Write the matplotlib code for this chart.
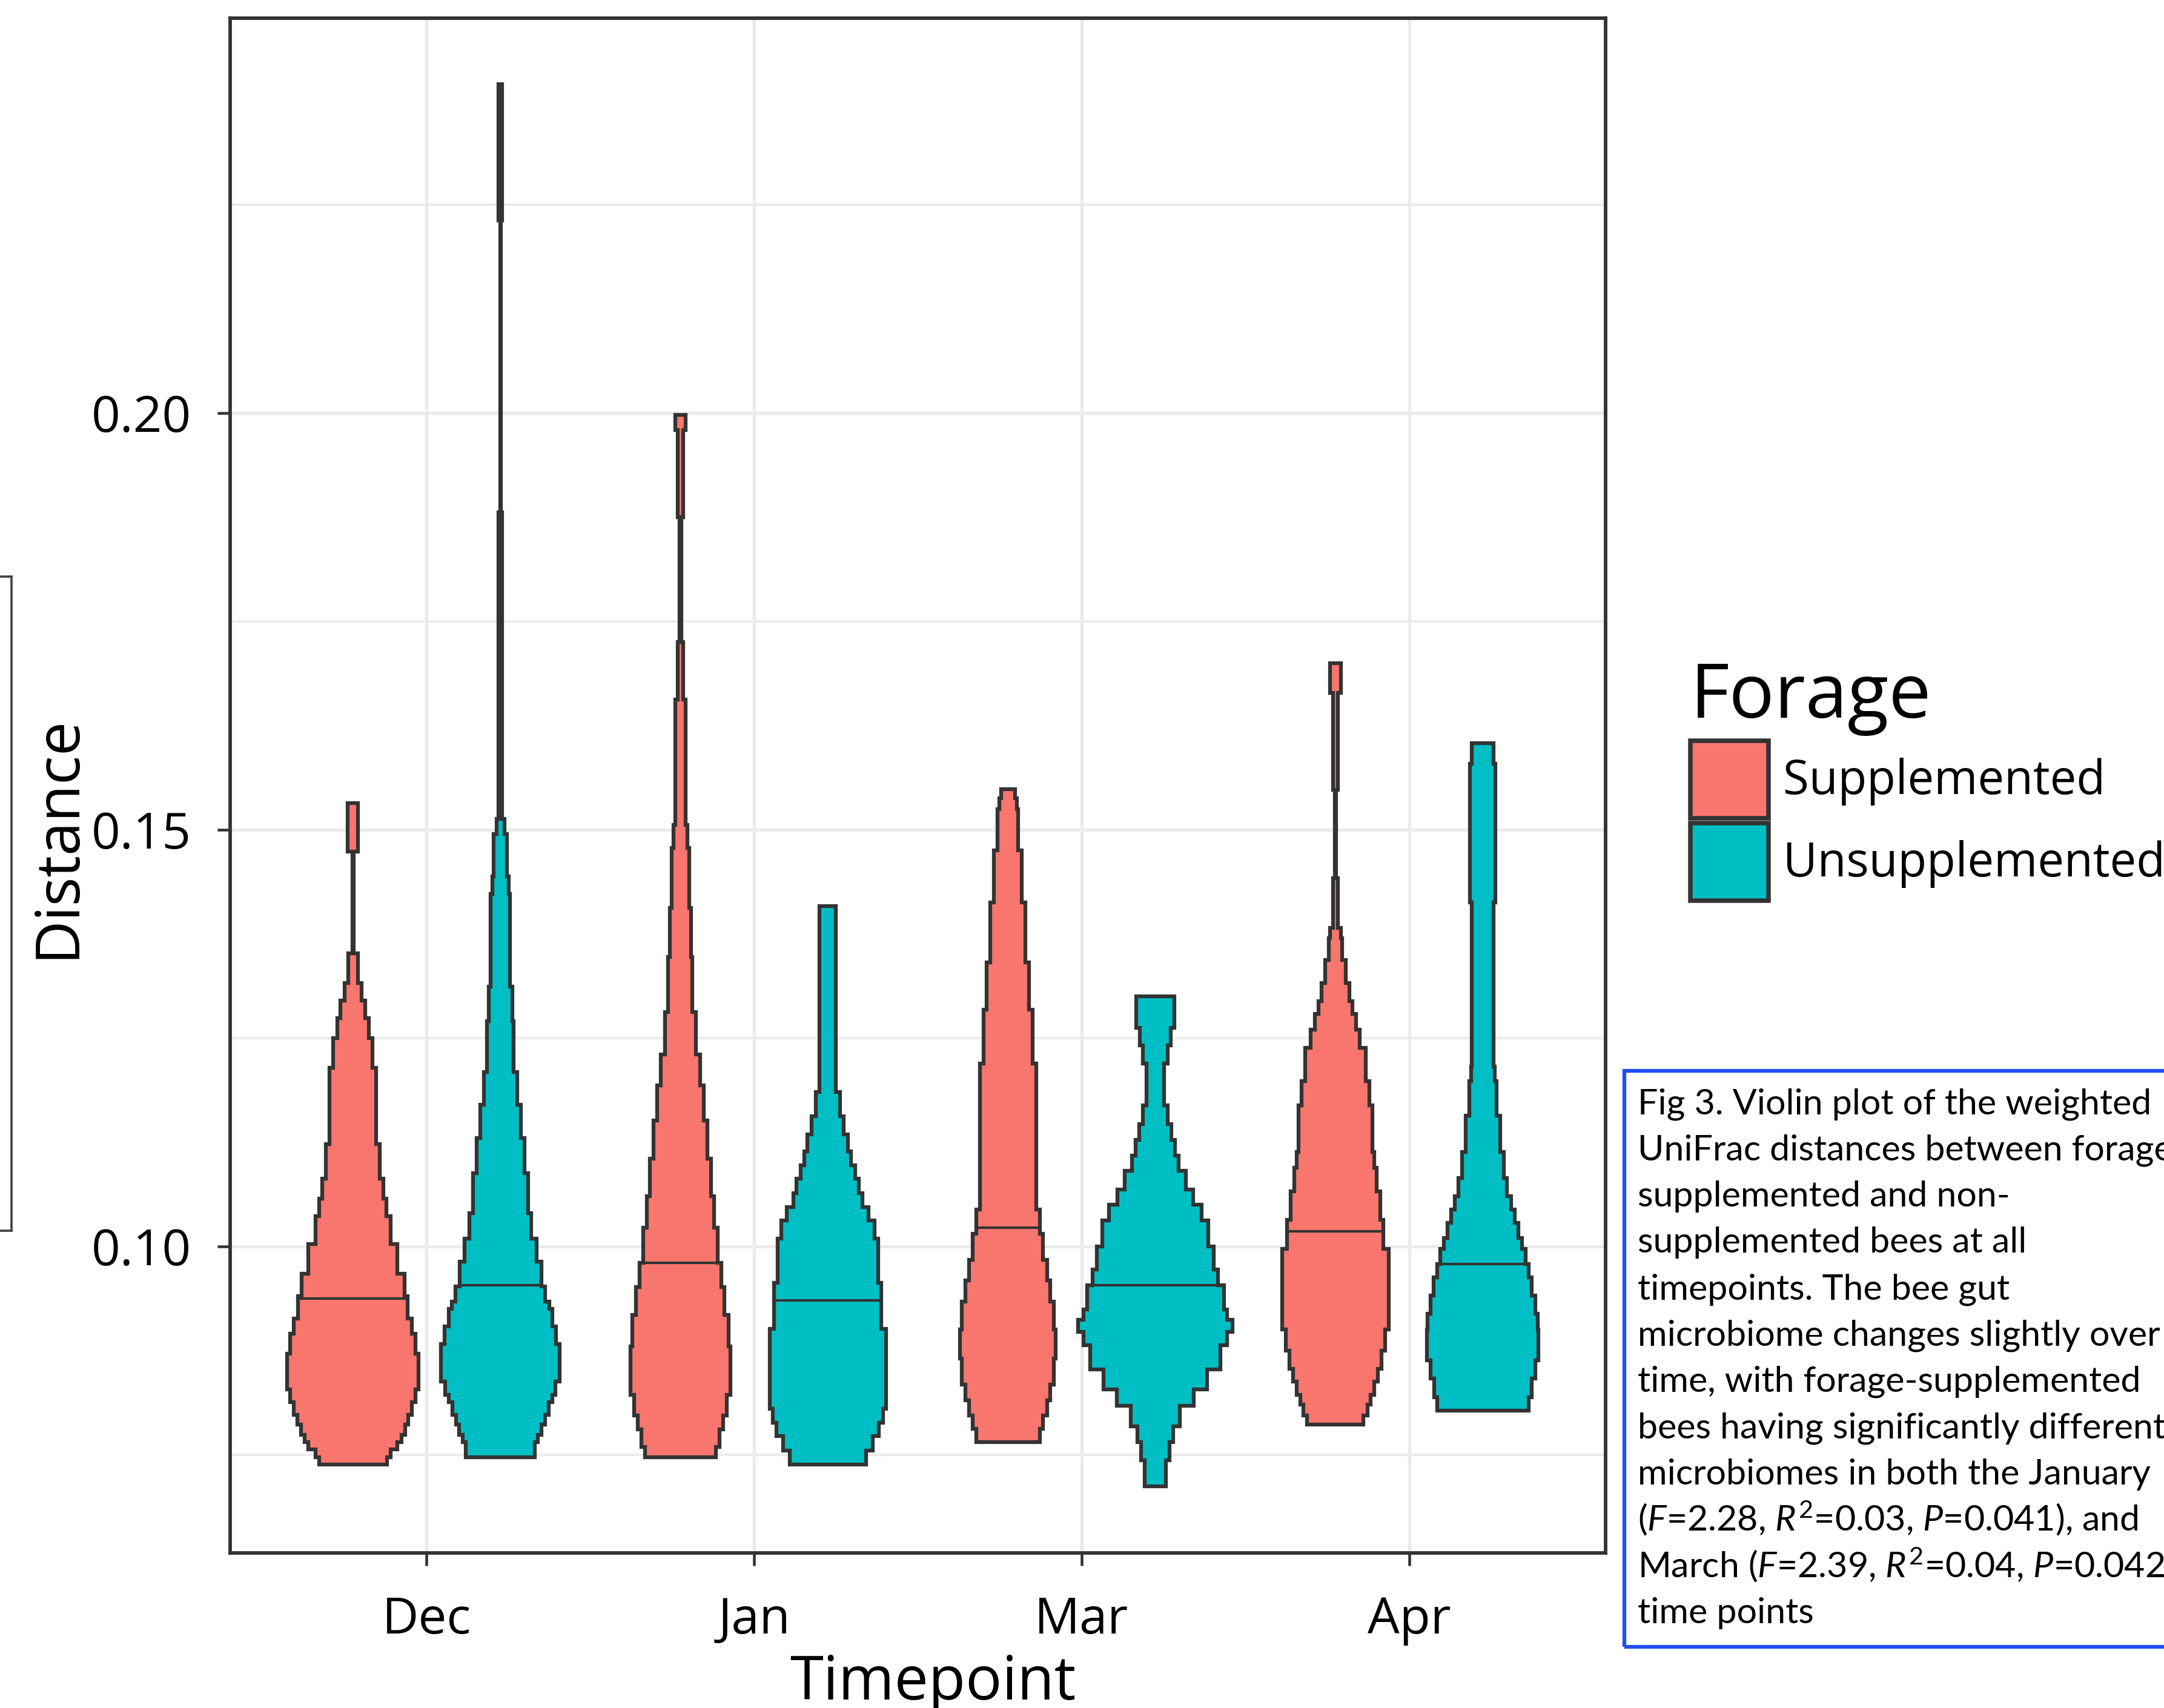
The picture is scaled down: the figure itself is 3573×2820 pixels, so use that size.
import matplotlib
matplotlib.use("Agg")
import matplotlib.pyplot as plt
from matplotlib.patches import Patch, Rectangle
from matplotlib.lines import Line2D
from matplotlib.ticker import FixedLocator

plt.rcParams['font.family'] = ['Open Sans', 'DejaVu Sans']
plt.rcParams['mathtext.fontset'] = 'custom'
plt.rcParams['mathtext.rm'] = 'Lato'
plt.rcParams['mathtext.it'] = 'Lato:italic'

# data
timepoints = ['Dec', 'Jan', 'Mar', 'Apr']
groups = ['Supplemented', 'Unsupplemented']
colors = {'Supplemented': '#F8766D', 'Unsupplemented': '#00BFC4'}

# step edges of each violin (ascending distance) and the half width of each step
dec_sup_y = [0.0738, 0.0747, 0.0756, 0.0765, 0.0774, 0.0786, 0.0798, 0.0813, 0.0828, 0.0871,
             0.0895, 0.0913, 0.0940, 0.0967, 0.1003, 0.1036, 0.1057, 0.1081, 0.1123, 0.1214,
             0.1250, 0.1274, 0.1295, 0.1316, 0.1352, 0.1474, 0.1532]
dec_sup_w = [0.104, 0.115, 0.136, 0.148, 0.159, 0.169, 0.180, 0.191, 0.201, 0.191,
             0.180, 0.167, 0.157, 0.136, 0.115, 0.103, 0.093, 0.082, 0.071, 0.060,
             0.048, 0.038, 0.026, 0.015, 0.002, 0.016]

dec_uns_y = [0.0747, 0.0765, 0.0774, 0.0786, 0.0798, 0.0813, 0.0822, 0.0838, 0.0883, 0.0904,
             0.0925, 0.0934, 0.0952, 0.0982, 0.1009, 0.1040, 0.1088, 0.1130, 0.1170, 0.1209,
             0.1270, 0.1312, 0.1423, 0.1444, 0.1495, 0.1513, 0.1881, 0.2231, 0.2395]
dec_uns_w = [0.106, 0.115, 0.126, 0.136, 0.147, 0.158, 0.168, 0.182, 0.170, 0.158,
             0.149, 0.137, 0.125, 0.110, 0.095, 0.084, 0.073, 0.062, 0.051, 0.041,
             0.036, 0.030, 0.025, 0.020, 0.012, 0.006, 0.001, 0.006]

jan_sup_y = [0.0747, 0.0759, 0.0780, 0.0797, 0.0822, 0.0880, 0.0918, 0.0951, 0.0980, 0.1022,
             0.1060, 0.1105, 0.1151, 0.1193, 0.1230, 0.1281, 0.1347, 0.1406, 0.1478, 0.1506,
             0.1656, 0.1725, 0.1875, 0.1980, 0.1998]
jan_sup_w = [0.109, 0.120, 0.131, 0.142, 0.152, 0.147, 0.135, 0.125, 0.114, 0.103,
             0.093, 0.082, 0.072, 0.060, 0.048, 0.037, 0.032, 0.027, 0.022, 0.016,
             0.008, 0.002, 0.008, 0.016]

jan_uns_y = [0.0738, 0.0755, 0.0772, 0.0788, 0.0805, 0.0901, 0.0956, 0.1009, 0.1031, 0.1047,
             0.1064, 0.1081, 0.1097, 0.1114, 0.1134, 0.1156, 0.1185, 0.1408]
jan_uns_w = [0.117, 0.137, 0.156, 0.168, 0.178, 0.164, 0.153, 0.142, 0.125, 0.105,
             0.095, 0.083, 0.071, 0.062, 0.049, 0.037, 0.025]

mar_sup_y = [0.0765, 0.0781, 0.0797, 0.0815, 0.0834, 0.0865, 0.0900, 0.0934, 0.0959, 0.0984,
             0.1015, 0.1044, 0.1219, 0.1284, 0.1341, 0.1413, 0.1475, 0.1525, 0.1538, 0.1549]
mar_sup_w = [0.097, 0.107, 0.119, 0.130, 0.140, 0.146, 0.140, 0.130, 0.119, 0.107,
             0.097, 0.086, 0.075, 0.065, 0.054, 0.043, 0.032, 0.027, 0.021]

mar_uns_y = [0.0712, 0.0743, 0.0765, 0.0784, 0.0809, 0.0828, 0.0852, 0.0881, 0.0897, 0.0912,
             0.0924, 0.0953, 0.0972, 0.1000, 0.1031, 0.1050, 0.1068, 0.1091, 0.1109, 0.1128,
             0.1147, 0.1169, 0.1219, 0.1241, 0.1262, 0.1300]
mar_uns_w = [0.032, 0.043, 0.055, 0.075, 0.117, 0.159, 0.198, 0.219, 0.235, 0.219,
             0.209, 0.192, 0.179, 0.162, 0.141, 0.115, 0.093, 0.072, 0.060, 0.049,
             0.038, 0.027, 0.038, 0.048, 0.059]

apr_sup_y = [0.0786, 0.0797, 0.0810, 0.0822, 0.0838, 0.0853, 0.0875, 0.0900, 0.0997, 0.1032,
             0.1066, 0.1094, 0.1113, 0.1169, 0.1198, 0.1238, 0.1260, 0.1279, 0.1294, 0.1316,
             0.1344, 0.1370, 0.1382, 0.1442, 0.1548, 0.1664, 0.1700]
apr_sup_w = [0.086, 0.098, 0.108, 0.119, 0.130, 0.141, 0.152, 0.163, 0.147, 0.137,
             0.125, 0.119, 0.113, 0.103, 0.092, 0.075, 0.063, 0.052, 0.042, 0.031,
             0.021, 0.016, 0.008, 0.002, 0.008, 0.016]

apr_uns_y = [0.0803, 0.0819, 0.0841, 0.0863, 0.0900, 0.0919, 0.0941, 0.0963, 0.0979, 0.0997,
             0.1010, 0.1028, 0.1044, 0.1060, 0.1082, 0.1113, 0.1157, 0.1198, 0.1216, 0.1413,
             0.1579, 0.1604]
apr_uns_w = [0.140, 0.149, 0.160, 0.170, 0.168, 0.160, 0.150, 0.140, 0.130, 0.119,
             0.108, 0.097, 0.086, 0.074, 0.064, 0.053, 0.042, 0.036, 0.033, 0.039,
             0.033]

medians_sup = [0.0937, 0.0980, 0.1022, 0.1018]
medians_uns = [0.0953, 0.0935, 0.0953, 0.0979]

violins = {
    'Supplemented': [(dec_sup_y, dec_sup_w), (jan_sup_y, jan_sup_w),
                     (mar_sup_y, mar_sup_w), (apr_sup_y, apr_sup_w)],
    'Unsupplemented': [(dec_uns_y, dec_uns_w), (jan_uns_y, jan_uns_w),
                       (mar_uns_y, mar_uns_w), (apr_uns_y, apr_uns_w)],
}
medians = {'Supplemented': medians_sup, 'Unsupplemented': medians_uns}

caption_lines = [
    "Fig 3. Violin plot of the weighted",
    "UniFrac distances between forage",
    "supplemented and non-",
    "supplemented bees at all",
    "timepoints. The bee gut",
    "microbiome changes slightly over",
    "time, with forage-supplemented",
    "bees having significantly different",
    "microbiomes in both the January",
    r"($F$=2.28, $R^2$=0.03, $P$=0.041), and",
    r"March ($F$=2.39, $R^2$=0.04, $P$=0.042)",
    "time points",
]

W, H = 3573, 2820
edge = '#333333'


def fx(px):
    return px / W


def fy(py):
    return 1 - py / H


fig = plt.figure(figsize=(W / 300, H / 300), dpi=300)
ax = fig.add_axes([fx(380), fy(2564), fx(2651) - fx(380), fy(30) - fy(2564)])


def draw_violin(ax, center, ys, ws, med, color):
    xs, yy = [], []
    for i, w in enumerate(ws):
        xs += [center + w, center + w]
        yy += [ys[i], ys[i + 1]]
    for i in reversed(range(len(ws))):
        xs += [center - ws[i], center - ws[i]]
        yy += [ys[i + 1], ys[i]]
    ax.fill(xs, yy, facecolor=color, edgecolor=edge, linewidth=1.5,
            joinstyle='miter', zorder=3)
    k = 0
    while k < len(ws) - 1 and ys[k + 1] <= med:
        k += 1
    wm = ws[k]
    ax.plot([center - wm, center + wm], [med, med], color=edge, lw=1.0,
            solid_capstyle='butt', zorder=4)


dodge = {'Supplemented': -0.225, 'Unsupplemented': 0.225}
for g in groups:
    for i, (ys, ws) in enumerate(violins[g]):
        draw_violin(ax, i + 1 + dodge[g], ys, ws, medians[g][i], colors[g])

ax.set_xlim(0.4, 4.6)
ax.set_ylim(0.0632, 0.2474)
ax.set_xticks(range(1, len(timepoints) + 1))
ax.set_xticklabels(timepoints)
ax.set_yticks([0.10, 0.15, 0.20])
ax.set_yticklabels(['0.10', '0.15', '0.20'])
ax.yaxis.set_minor_locator(FixedLocator([0.075, 0.125, 0.175, 0.225]))
ax.set_axisbelow(True)
ax.grid(which='major', color='#EBEBEB', lw=1.3)
ax.grid(which='minor', axis='y', color='#EBEBEB', lw=1.0)
ax.tick_params(which='major', length=5, width=1.1, color=edge, labelsize=20,
               labelcolor='black')
ax.tick_params(axis='y', pad=10.5)
ax.tick_params(axis='x', pad=12)
ax.tick_params(which='minor', length=0)
for s in ax.spines.values():
    s.set_color(edge)
    s.set_linewidth(1.4)

fig.text(fx(1540), fy(2806), 'Timepoint', fontsize=24, ha='center', va='baseline')
fig.text(fx(122), fy(1382), 'Distance', fontsize=24, rotation=90,
         rotation_mode='anchor', ha='center', va='baseline')

handles = [Patch(facecolor=colors[g], edgecolor=edge, linewidth=1.8) for g in groups]
leg = ax.legend(handles, groups, title='Forage', loc='upper left',
                bbox_to_anchor=(fx(2791), fy(1090)), bbox_transform=fig.transFigure,
                frameon=False, fontsize=18.7, title_fontsize=30, alignment='left',
                handlelength=1.66, handleheight=2.15, labelspacing=0.1,
                handletextpad=0.3, borderpad=0, borderaxespad=0)

# caption box, cut off at the right edge like the original
fig.patches.append(Rectangle((fx(2682), fy(2719)), fx(3700) - fx(2682), fy(1768) - fy(2719),
                             transform=fig.transFigure, fill=False,
                             edgecolor='#1F4EF5', linewidth=1.5))
for i, line in enumerate(caption_lines):
    fig.text(fx(2704), fy(1839 + i * 76.5), line, fontsize=14.2, family='Lato',
             ha='left', va='baseline')

# stray frame on the left edge
for seg in ([(0, 19), (952, 952)], [(19, 19), (952, 2032)], [(0, 19), (2032, 2032)]):
    fig.lines.append(Line2D([fx(v) for v in seg[0]], [fy(v) for v in seg[1]],
                            transform=fig.transFigure, color='#444444', lw=0.9))

fig.savefig('out.png', dpi=300)
